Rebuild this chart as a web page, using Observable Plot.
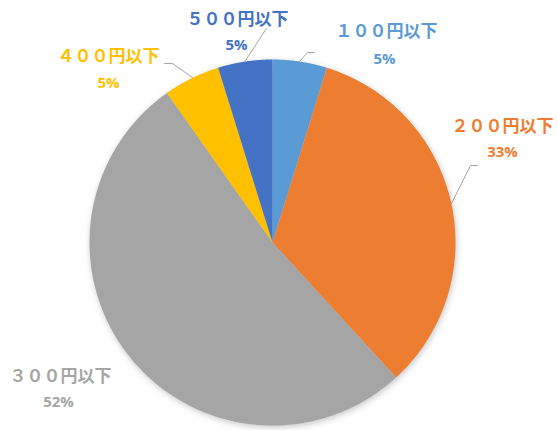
<!DOCTYPE html>
<html><head><meta charset="utf-8">
<script src="https://cdn.jsdelivr.net/npm/d3@7"></script>
<script src="https://cdn.jsdelivr.net/npm/@observablehq/plot@0.6"></script>
<style>
html,body{margin:0;padding:0;background:#fff;}
</style>
</head><body>
<div id="chart"></div>
<script>
// Data
const categories = ["１００円以下", "２００円以下", "３００円以下", "４００円以下", "５００円以下"];
const shares = [4.8, 33.4, 52.0, 5.0, 4.8];
const pctLabels = ["5%", "33%", "52%", "5%", "5%"];
const colors = ["#5B9BD5", "#ED7D31", "#A5A5A5", "#FFC000", "#4472C4"];

// Layout (pixels)
const W = 558, H = 430, CX = 272, CY = 242, R = 183;
// label anchor points in pixels: [nameX, nameY, pctX, pctY]
const labelPos = [
  [386, 31, 384, 59],
  [502, 126, 502, 152],
  [60, 376, 58, 402],
  [108, 56, 108, 83],
  [237, 19, 236, 45]
];
// leader lines in pixels (null = none)
const leaders = [
  [[299, 61], [307, 52], [314, 52]],
  [[451, 203], [470, 165], [477, 165]],
  null,
  [[192, 77], [172, 63], [164, 63]],
  [[245, 60], [266, 28]]
];

const ux = px => (px - CX) / R;
const uy = py => (CY - py) / R;

const arcs = d3.pie().sort(null).startAngle(0).endAngle(2 * Math.PI)(shares);
const slicePts = [];
arcs.forEach((a, i) => {
  const n = 120;
  slicePts.push({cat: categories[i], x: 0, y: 0});
  for (let k = 0; k <= n; k++) {
    const t = a.startAngle + (a.endAngle - a.startAngle) * k / n;
    slicePts.push({cat: categories[i], x: Math.sin(t), y: Math.cos(t)});
  }
  slicePts.push({cat: categories[i], x: 0, y: 0});
});

const leaderPts = [];
leaders.forEach((l, i) => {
  if (!l) return;
  l.forEach(p => leaderPts.push({cat: categories[i], x: ux(p[0]), y: uy(p[1])}));
});

const labels = categories.map((c, i) => ({
  cat: c, pct: pctLabels[i], color: colors[i],
  nx: ux(labelPos[i][0]), ny: uy(labelPos[i][1]),
  px: ux(labelPos[i][2]), py: uy(labelPos[i][3])
}));

const plot = Plot.plot({
  width: W, height: H,
  margin: 0,
  x: {type: "linear", domain: [ux(0), ux(W)], range: [0, W], axis: null},
  y: {type: "linear", domain: [uy(H), uy(0)], range: [H, 0], axis: null},
  color: {domain: categories, range: colors},
  style: {background: "#fff"},
  marks: [
    Plot.line(slicePts, {x: "x", y: "y", z: "cat", fill: "cat", stroke: "none", curve: "linear"}),
    Plot.line(leaderPts, {x: "x", y: "y", z: "cat", stroke: "#A6A6A6", strokeWidth: 1}),
    Plot.text(labels, {x: "nx", y: "ny", text: "cat", fill: "color",
      fontSize: 17, fontWeight: "bold", fontFamily: "Noto Sans CJK JP", textAnchor: "middle"}),
    Plot.text(labels, {x: "px", y: "py", text: "pct", fill: "color",
      fontSize: 15, fontWeight: "bold", fontFamily: "Open Sans", textAnchor: "middle"})
  ]
});
const g = plot.querySelector('g[aria-label="line"]');
if (g) g.style.filter = "drop-shadow(1px 2px 3px rgba(0,0,0,0.22))";
document.getElementById("chart").appendChild(plot);
</script>
</body></html>
